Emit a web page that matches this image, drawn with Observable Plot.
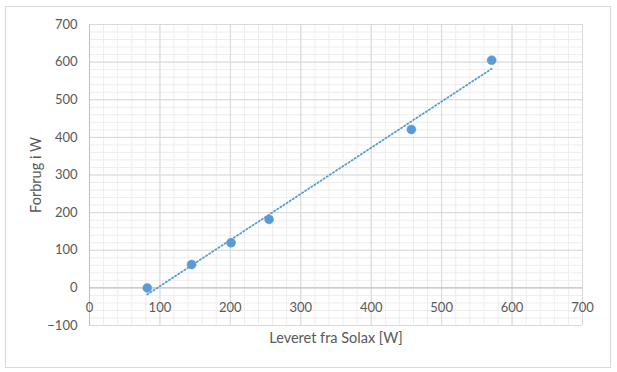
<!DOCTYPE html>
<html>
<head>
<meta charset="utf-8">
<script src="https://cdn.jsdelivr.net/npm/d3@7"></script>
<script src="https://cdn.jsdelivr.net/npm/@observablehq/plot@0.6"></script>
<style>
  html, body { margin: 0; padding: 0; background: #fff; }
  #wrap { position: relative; width: 617px; height: 372px; }
  #border { position: absolute; left: 5px; top: 6px; width: 604px; height: 360px; border: 1px solid #d9d9d9; pointer-events: none; }
</style>
</head>
<body>
<div id="wrap"><div id="border"></div></div>
<script>
const leveret = [82, 145, 201, 255, 457, 571];
const forbrug = [0, 62, 120, 182, 421, 605];
const xTicks = [0, 100, 200, 300, 400, 500, 600, 700];
const yTicks = [-100, 0, 100, 200, 300, 400, 500, 600, 700];
const xLabel = "Leveret fra Solax [W]";
const yLabel = "Forbrug i W";

const data = leveret.map((x, i) => ({x, y: forbrug[i]}));
const minorX = d3.range(0, 701, 20);
const minorY = d3.range(-100, 701, 20);
const blue = "#5b9bd5";

const chart = Plot.plot({
  width: 617,
  height: 372,
  marginLeft: 89,
  marginRight: 35,
  marginTop: 24,
  marginBottom: 47,
  style: {fontFamily: "Lato, 'Open Sans', sans-serif", fontSize: "13px", color: "#595959", background: "transparent"},
  x: {domain: [0, 700]},
  y: {domain: [-100, 700]},
  marks: [
    Plot.gridX(minorX, {stroke: "#ededed", strokeOpacity: 1}),
    Plot.gridY(minorY, {stroke: "#ededed", strokeOpacity: 1}),
    Plot.gridX(xTicks, {stroke: "#d9d9d9", strokeOpacity: 1}),
    Plot.gridY(yTicks, {stroke: "#d9d9d9", strokeOpacity: 1}),
    Plot.ruleY([0], {stroke: "#bfbfbf"}),
    Plot.ruleX([0], {stroke: "#bfbfbf"}),
    Plot.axisY(yTicks, {tickSize: 0, tickPadding: 12, label: null, fill: "#595959"}),
    Plot.axisX([], {label: null}),
    Plot.text(xTicks, {x: d => d, y: 0, dy: 20, text: d => String(d), fill: "#595959"}),
    Plot.text([yLabel], {frameAnchor: "left", textAnchor: "middle", dx: -53, rotate: -90, text: d => d, fill: "#595959", fontSize: 14.5}),
    Plot.text([xLabel], {frameAnchor: "bottom", textAnchor: "middle", dy: 13, text: d => d, fill: "#595959", fontSize: 14.5, lineAnchor: "middle"}),
    Plot.linearRegressionY(data, {x: "x", y: "y", stroke: blue, strokeWidth: 1.8, strokeDasharray: "1.3,2.4", ci: 0}),
    Plot.dot(data, {x: "x", y: "y", r: 4.5, fill: blue, stroke: blue, strokeWidth: 0.5})
  ]
});
document.getElementById("wrap").prepend(chart);
</script>
</body>
</html>
